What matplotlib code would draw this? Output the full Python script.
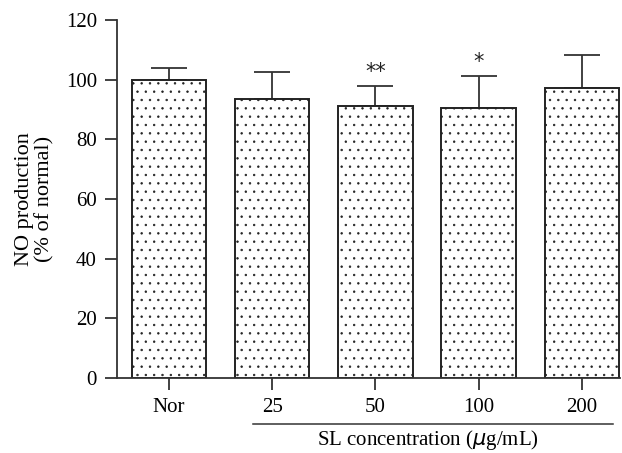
import numpy as np
import matplotlib.pyplot as plt

plt.rcParams['font.family'] = ['Liberation Serif', 'DejaVu Serif']
plt.rcParams['hatch.linewidth'] = 0.5
plt.rcParams['hatch.color'] = '#222222'

groups = ['Nor', '25', '50', '100', '200']
means = [100, 93.5, 91.0, 90.6, 97.3]
errs = [4.0, 9.2, 7.0, 10.5, 10.9]
stars = ['', '', '**', '*', '']

fig = plt.figure(figsize=(6.22, 4.53), dpi=100)
ax = fig.add_axes([0.188, 0.1656, 0.8087, 0.7904])

x = np.arange(len(groups))
ax.bar(x, means, width=0.72, color='white', edgecolor='#222222',
       linewidth=1.4, hatch='..', zorder=2)
ax.errorbar(x, means, yerr=[np.zeros(len(errs)), errs], fmt='none',
            ecolor='#333333', elinewidth=1.3, capsize=13.3, capthick=1.3, zorder=1)

for xi, m, e, s in zip(x, means, errs, stars):
    if s:
        ax.text(xi, m + e + 4.7, s, ha='center', va='center',
                fontsize=15, fontfamily='DejaVu Sans', color='#222222')

ax.set_xlim(-0.505, 4.37)
ax.set_ylim(0, 120)
ax.set_yticks(np.arange(0, 121, 20))
ax.set_xticks(x)
ax.set_xticklabels(groups)
ax.spines['top'].set_visible(False)
ax.spines['right'].set_visible(False)
for sp in ['left', 'bottom']:
    ax.spines[sp].set_linewidth(1.3)
    ax.spines[sp].set_color('#333333')
ax.tick_params(direction='out', length=8.5, width=1.3, color='#333333',
               labelsize=15, pad=6)
ax.set_ylabel('NO production\n(% of normal)', fontsize=16, labelpad=8,
              linespacing=1.05)

# line under the SL concentration groups
ax.plot([0.816, 4.30], [-15.4, -15.4], color='#333333', lw=1.1, clip_on=False)
ax.text(2.505, -22.6, 'SL concentration ($\\mu$g/mL)', ha='center',
        va='baseline', fontsize=15)

fig.savefig('out.png', dpi=100)
